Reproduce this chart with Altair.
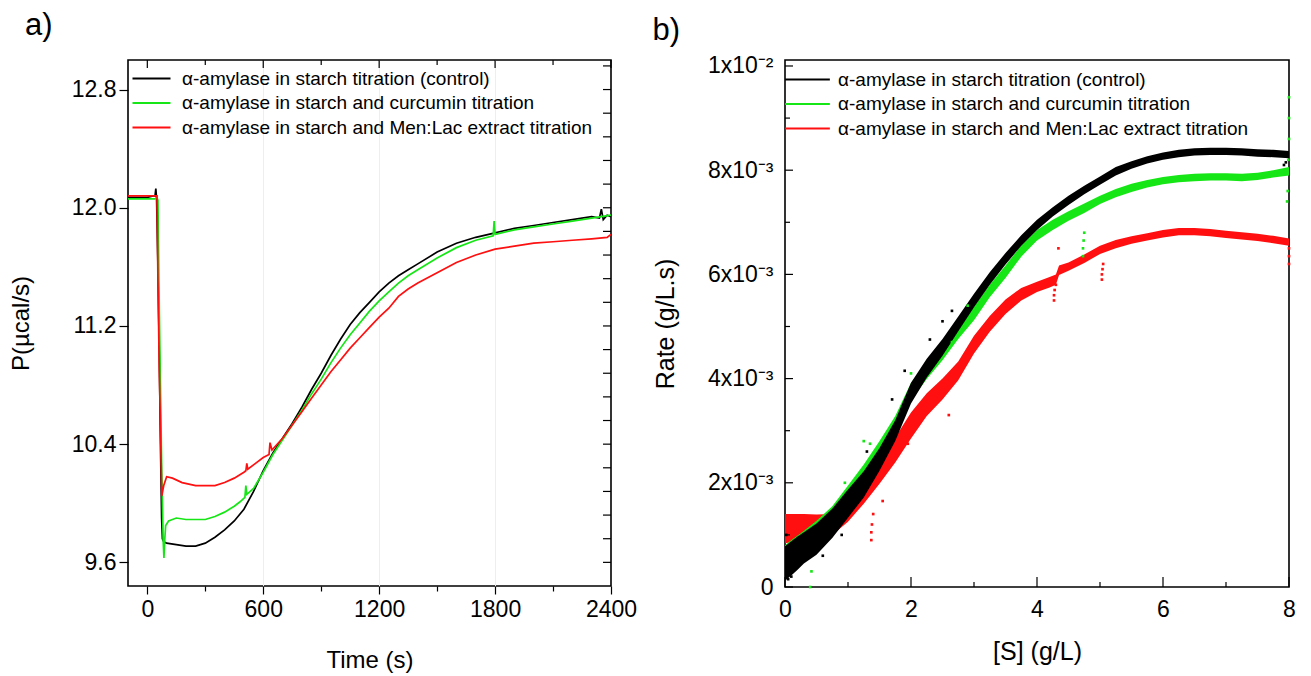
import altair as alt
import pandas as pd

SERIES = [
    "α-amylase in starch titration (control)",
    "α-amylase in starch and curcumin titration",
    "α-amylase in starch and Men:Lac extract titration",
]
COLORS = ["#000000", "#16e616", "#ff0f0f"]

# ---------------- panel a) : heat flow vs time ----------------
t_black = [-100, -50, 0, 30, 40, 44, 48, 55, 62, 68, 74, 78, 85, 100, 150, 200, 250, 300,
           350, 400, 450, 500, 550, 600, 650, 700, 750, 800, 850, 900, 950, 1000, 1050,
           1100, 1150, 1200, 1250, 1300, 1350, 1400, 1500, 1600, 1700, 1800, 1900, 2000,
           2100, 2200, 2300, 2340, 2350, 2360, 2380, 2400]
p_black = [12.07, 12.07, 12.07, 12.08, 12.08, 12.13, 12.06, 11.6, 11.0, 10.4, 9.9, 9.76,
           9.74, 9.73, 9.72, 9.71, 9.71, 9.73, 9.77, 9.82, 9.88, 9.96, 10.08, 10.22, 10.34,
           10.44, 10.54, 10.65, 10.77, 10.88, 11.00, 11.11, 11.21, 11.29, 11.36, 11.43,
           11.49, 11.54, 11.58, 11.62, 11.70, 11.76, 11.80, 11.83, 11.86, 11.88, 11.90,
           11.92, 11.94, 11.93, 11.99, 11.92, 11.95, 11.94]

t_green = [-100, -50, 0, 40, 50, 55, 60, 68, 75, 82, 86, 90, 95, 110, 150, 200, 250, 300,
           350, 400, 450, 480, 505, 510, 515, 550, 600, 650, 700, 750, 800, 850, 900, 950,
           1000, 1050, 1100, 1150, 1200, 1250, 1300, 1350, 1400, 1500, 1600, 1700, 1790,
           1795, 1800, 1900, 2000, 2100, 2200, 2300, 2400]
p_green = [12.06, 12.06, 12.06, 12.06, 12.07, 12.05, 11.5, 10.8, 10.2, 9.75, 9.63, 9.75,
           9.85, 9.88, 9.90, 9.89, 9.89, 9.89, 9.91, 9.94, 9.98, 10.01, 10.04, 10.12, 10.06,
           10.10, 10.21, 10.33, 10.43, 10.53, 10.63, 10.74, 10.84, 10.95, 11.05, 11.14,
           11.22, 11.30, 11.37, 11.43, 11.49, 11.54, 11.58, 11.66, 11.73, 11.78, 11.81,
           11.91, 11.82, 11.85, 11.87, 11.89, 11.91, 11.93, 11.95]

t_red = [-100, -50, 0, 40, 50, 55, 62, 70, 75, 85, 100, 130, 180, 250, 300, 350, 400, 450,
         500, 510, 515, 520, 560, 600, 630, 635, 645, 700, 750, 800, 850, 900, 950, 1000,
         1050, 1100, 1150, 1200, 1250, 1300, 1350, 1400, 1500, 1600, 1700, 1800, 1900, 2000,
         2100, 2200, 2300, 2380, 2400]
p_red = [12.08, 12.08, 12.08, 12.08, 12.08, 11.5, 10.9, 10.4, 10.05, 10.12, 10.18, 10.17,
         10.14, 10.12, 10.12, 10.12, 10.14, 10.17, 10.21, 10.22, 10.27, 10.23, 10.27, 10.31,
         10.33, 10.41, 10.36, 10.44, 10.53, 10.62, 10.71, 10.80, 10.89, 10.97, 11.05, 11.12,
         11.19, 11.26, 11.32, 11.40, 11.45, 11.49, 11.56, 11.63, 11.68, 11.72, 11.74, 11.76,
         11.77, 11.78, 11.79, 11.80, 11.82]

A_X_MAJOR = [0, 600, 1200, 1800, 2400]
A_X_ALL = [0, 300, 600, 900, 1200, 1500, 1800, 2100, 2400]
A_X_MINOR = [300, 900, 1500, 2100]
A_Y_MAJOR = [9.6, 10.4, 11.2, 12.0, 12.8]
A_Y_ALL = [9.6, 9.76, 9.92, 10.08, 10.24, 10.4, 10.56, 10.72, 10.88, 11.04, 11.2, 11.36,
           11.52, 11.68, 11.84, 12.0, 12.16, 12.32, 12.48, 12.64, 12.8, 12.96]

# ---------------- panel b) : rate vs substrate ----------------
s_bg = [0, 0.1, 0.2, 0.3, 0.5, 0.75, 1.0, 1.25, 1.5, 1.75, 2.0, 2.25, 2.5, 2.75, 3.0, 3.25,
        3.5, 3.75, 4.0, 4.25, 4.5, 4.75, 5.0, 5.25, 5.5, 5.75, 6.0, 6.25, 6.5, 6.75, 7.0,
        7.25, 7.5, 7.75, 8.0]
r_black = [0.45, 0.55, 0.65, 0.75, 0.92, 1.22, 1.6, 1.97, 2.45, 3.0, 3.72, 4.2, 4.6, 5.05,
           5.5, 5.92, 6.3, 6.65, 6.95, 7.2, 7.42, 7.62, 7.8, 7.98, 8.1, 8.2, 8.27, 8.32,
           8.35, 8.36, 8.36, 8.35, 8.33, 8.32, 8.3]
w_black = [0.33, 0.33, 0.32, 0.3, 0.3, 0.28, 0.27, 0.25, 0.22, 0.2, 0.2, 0.18, 0.16, 0.14,
           0.13, 0.12, 0.11, 0.1, 0.1, 0.09, 0.09, 0.08, 0.08, 0.08, 0.07, 0.07, 0.07, 0.07,
           0.07, 0.07, 0.07, 0.07, 0.07, 0.07, 0.07]
r_green = [0.55, 0.65, 0.75, 0.85, 1.05, 1.35, 1.75, 2.15, 2.6, 3.1, 3.75, 4.15, 4.5, 4.9,
           5.25, 5.68, 6.05, 6.45, 6.75, 6.95, 7.12, 7.27, 7.43, 7.56, 7.66, 7.74, 7.8,
           7.84, 7.86, 7.87, 7.87, 7.86, 7.88, 7.93, 7.98]
w_green = [0.25, 0.25, 0.24, 0.23, 0.22, 0.2, 0.2, 0.2, 0.2, 0.18, 0.17, 0.16, 0.15, 0.14,
           0.13, 0.12, 0.12, 0.11, 0.1, 0.1, 0.09, 0.09, 0.08, 0.08, 0.08, 0.07, 0.07, 0.07,
           0.07, 0.07, 0.07, 0.07, 0.07, 0.07, 0.08]
s_red = [0, 0.1, 0.2, 0.3, 0.5, 0.75, 1.0, 1.25, 1.5, 1.75, 2.0, 2.25, 2.5, 2.75, 3.0, 3.25,
         3.5, 3.75, 4.0, 4.2, 4.3, 4.35, 4.5, 4.75, 5.0, 5.25, 5.5, 5.75, 6.0, 6.25, 6.5,
         6.75, 7.0, 7.25, 7.5, 7.75, 8.0]
r_red = [1.12, 1.13, 1.14, 1.15, 1.17, 1.2, 1.45, 1.8, 2.2, 2.63, 3.1, 3.5, 3.8, 4.15, 4.65,
         5.05, 5.38, 5.62, 5.76, 5.85, 5.9, 6.08, 6.15, 6.3, 6.47, 6.58, 6.66, 6.72, 6.78,
         6.82, 6.82, 6.8, 6.77, 6.74, 6.71, 6.67, 6.62]
w_red = [0.28, 0.27, 0.26, 0.25, 0.22, 0.2, 0.2, 0.2, 0.22, 0.24, 0.25, 0.22, 0.2, 0.18,
         0.17, 0.15, 0.14, 0.12, 0.1, 0.1, 0.1, 0.09, 0.08, 0.08, 0.08, 0.08, 0.07, 0.07,
         0.07, 0.07, 0.07, 0.07, 0.07, 0.07, 0.07, 0.07, 0.07]

# scattered points off the main bands (S in g/L, rate in 1e-3 g/L.s)
out_black_s = [0.05, 0.1, 0.02, 0.6, 0.9, 1.3, 1.7, 1.9, 2.3, 2.5, 2.65, 7.92, 7.95]
out_black_r = [0.15, 0.2, 1.0, 0.6, 1.0, 2.6, 3.6, 4.15, 4.75, 5.1, 5.3, 8.1, 8.15]
out_green_s = [0.4, 0.42, 0.95, 1.25, 1.35, 2.0, 2.65, 2.9, 4.73, 4.73, 4.74, 4.75, 7.97,
               7.98, 7.99, 8.0, 8.0, 8.0]
out_green_r = [0.0, 0.3, 2.0, 2.8, 2.75, 4.1, 4.7, 5.4, 6.35, 6.5, 6.65, 6.8, 7.4, 7.6,
               8.2, 8.6, 9.0, 9.4]
out_red_s = [1.37, 1.37, 1.38, 1.4, 1.55, 1.95, 2.6, 4.27, 4.27, 4.28, 4.3, 4.34, 5.03,
             5.03, 5.04, 5.05, 8.0, 8.0, 8.0]
out_red_r = [0.9, 1.05, 1.2, 1.4, 1.65, 2.75, 3.3, 5.5, 5.6, 5.7, 5.8, 6.5, 5.9, 6.0, 6.1,
             6.2, 6.2, 6.35, 6.5]

B_X_MAJOR = [0, 2, 4, 6, 8]
B_X_MINOR = [1, 3, 5, 7]
B_Y_MAJOR = [0, 0.002, 0.004, 0.006, 0.008, 0.01]
B_Y_MINOR = [0.001, 0.003, 0.005, 0.007, 0.009]

# ---------------- tables ----------------
rows = []
for name, ts, ps in zip(SERIES, [t_black, t_green, t_red], [p_black, p_green, p_red]):
    for i, (t, p) in enumerate(zip(ts, ps)):
        rows.append({"series": name, "t": t, "p": p, "i": i})
dfa = pd.DataFrame(rows)


def band_frame(name, ss, rr, ww):
    return pd.DataFrame({
        "series": name,
        "s": ss,
        "r": [r / 1000 for r in rr],
        "lo": [(r - w) / 1000 for r, w in zip(rr, ww)],
        "hi": [(r + w) / 1000 for r, w in zip(rr, ww)],
        "i": list(range(len(ss))),
    })


bands = [band_frame(SERIES[0], s_bg, r_black, w_black),
         band_frame(SERIES[1], s_bg, r_green, w_green),
         band_frame(SERIES[2], s_red, r_red, w_red)]
dfb = pd.concat(bands, ignore_index=True)

rows = []
for name, ss, rr in zip(SERIES, [out_black_s, out_green_s, out_red_s],
                        [out_black_r, out_green_r, out_red_r]):
    for s, r in zip(ss, rr):
        rows.append({"series": name, "s": s, "r": r / 1000})
dfo = pd.DataFrame(rows)

FONT = "Liberation Sans"
WA, HA = 483, 526
WB, HB = 504, 527

color_scale = alt.Scale(domain=SERIES, range=COLORS)


def make_legend(path, x, y, label_offset):
    return alt.Legend(title=None, orient="none", legendX=x, legendY=y, padding=0,
                      symbolType=path, symbolStrokeWidth=2, symbolSize=500,
                      labelFont=FONT, labelFontSize=19, labelLimit=0, rowPadding=1.5,
                      labelOffset=label_offset)


# ----- panel a -----
xa = alt.X("t:Q", title="Time (s)",
           scale=alt.Scale(domain=[-100, 2400], nice=False, zero=False),
           axis=alt.Axis(values=A_X_ALL, format="d", labelFlush=False,
                         labelExpr="datum.value % 600 == 0 ? datum.label : ''",
                         tickSize={"condition": {"test": "datum.value % 600 === 0",
                                                 "value": 8}, "value": 5},
                         grid=True, gridColor="#e2f3f3",
                         gridOpacity={"condition": {"test": "datum.value % 600 === 0 && datum.value > 0 && datum.value < 2400",
                                                    "value": 1}, "value": 0},
                         domain=False, labelPadding=4, titlePadding=27))
ya = alt.Y("p:Q", title="P(µcal/s)",
           scale=alt.Scale(domain=[9.44, 13.0], nice=False, zero=False),
           axis=alt.Axis(values=A_Y_MAJOR, format=".1f", tickSize=9, grid=False,
                         domain=False, labelPadding=3, titlePadding=38))

lines_a = alt.Chart(dfa).mark_line(strokeWidth=1.7).encode(
    x=xa, y=ya,
    color=alt.Color("series:N", scale=color_scale,
                    legend=make_legend("M-1.7,0H1.7", 11, 6, 18)),
    order="i:Q",
)

top_major_a = alt.Chart(pd.DataFrame({"v": A_X_MAJOR})).mark_rule(color="black", strokeWidth=1.2).encode(
    x="v:Q", y=alt.value(0), y2=alt.value(8))
top_minor_a = alt.Chart(pd.DataFrame({"v": A_X_MINOR})).mark_rule(color="black", strokeWidth=1.2).encode(
    x="v:Q", y=alt.value(0), y2=alt.value(5))
right_a = alt.Chart(pd.DataFrame({"v": A_Y_ALL})).mark_rule(color="black", strokeWidth=1.2).encode(
    y="v:Q", x=alt.value(WA - 8), x2=alt.value(WA))

panel_a = alt.layer(lines_a, top_major_a, top_minor_a, right_a).properties(
    width=WA, height=HA,
    title=alt.TitleParams("a)", anchor="start", fontSize=31, font=FONT,
                          fontWeight="normal", dx=-103, offset=17, frame="group"),
)

# ----- panel b -----
xb = alt.X("s:Q", title="[S] (g/L)",
           scale=alt.Scale(domain=[0, 8], nice=False, zero=False),
           axis=alt.Axis(values=B_X_MAJOR, format="d", ticks=False, grid=False,
                         labelFlush=False, domain=False, labelPadding=11,
                         titlePadding=18, titleFontSize=25))
yb = alt.Y("lo:Q", title="Rate (g/L.s)",
           scale=alt.Scale(domain=[0, 0.010115], nice=False, zero=False),
           axis=alt.Axis(values=B_Y_MAJOR, ticks=False, grid=False, domain=False,
                         labelExpr="datum.value == 0 ? '0' : (datum.value > 0.0095 ? '1x10⁻²' : round(datum.value * 1000) + 'x10⁻³')",
                         labelPadding=12, titlePadding=29, titleFontSize=25))

centre_b = alt.Chart(dfb).mark_line(strokeWidth=1).encode(
    x=xb, y=alt.Y("r:Q", title="Rate (g/L.s)",
                  scale=alt.Scale(domain=[0, 0.010115], nice=False, zero=False)),
    color=alt.Color("series:N", scale=color_scale,
                    legend=make_legend("M-2,0H2", 10, 7, 18)),
    detail="series:N",
    order="i:Q",
)

band_layers = []
for k in [2, 1, 0]:
    band_layers.append(
        alt.Chart(bands[k]).mark_area(color=COLORS[k], opacity=1, interpolate="linear")
        .encode(x=xb, y=yb, y2="hi:Q")
    )

pts_b = alt.Chart(dfo).mark_square(size=7, opacity=1).encode(
    x="s:Q", y="r:Q",
    color=alt.Color("series:N", scale=color_scale, legend=None),
)
bottom_major_b = alt.Chart(pd.DataFrame({"v": B_X_MAJOR})).mark_rule(color="black", strokeWidth=1.2).encode(
    x="v:Q", y=alt.value(HB - 10), y2=alt.value(HB))
bottom_minor_b = alt.Chart(pd.DataFrame({"v": B_X_MINOR})).mark_rule(color="black", strokeWidth=1.2).encode(
    x="v:Q", y=alt.value(HB - 5), y2=alt.value(HB))
left_major_b = alt.Chart(pd.DataFrame({"v": B_Y_MAJOR})).mark_rule(color="black", strokeWidth=1.2).encode(
    y="v:Q", x=alt.value(0), x2=alt.value(8))
left_minor_b = alt.Chart(pd.DataFrame({"v": B_Y_MINOR})).mark_rule(color="black", strokeWidth=1.2).encode(
    y="v:Q", x=alt.value(0), x2=alt.value(5))

panel_b = alt.layer(centre_b, *band_layers, pts_b, bottom_major_b, bottom_minor_b,
                    left_major_b, left_minor_b).properties(
    width=WB, height=HB,
    title=alt.TitleParams("b)", anchor="start", fontSize=31, font=FONT,
                          fontWeight="normal", dx=-1, offset=8, frame="bounds"),
)

chart = alt.hconcat(panel_a, panel_b, spacing=13).resolve_scale(
    color="independent"
).properties(
    padding={"top": 1, "left": 0, "right": 0, "bottom": 0}, background="white"
).configure_view(
    stroke="black", strokeWidth=1.6
).configure_axis(
    labelFont=FONT, titleFont=FONT, labelFontSize=23, titleFontSize=24,
    labelColor="black", titleColor="black", titleFontWeight="normal",
    tickColor="black", tickWidth=1.2,
).configure_legend(labelColor="black")

chart.save("out.html", embed_options={"renderer": "svg", "actions": False})
